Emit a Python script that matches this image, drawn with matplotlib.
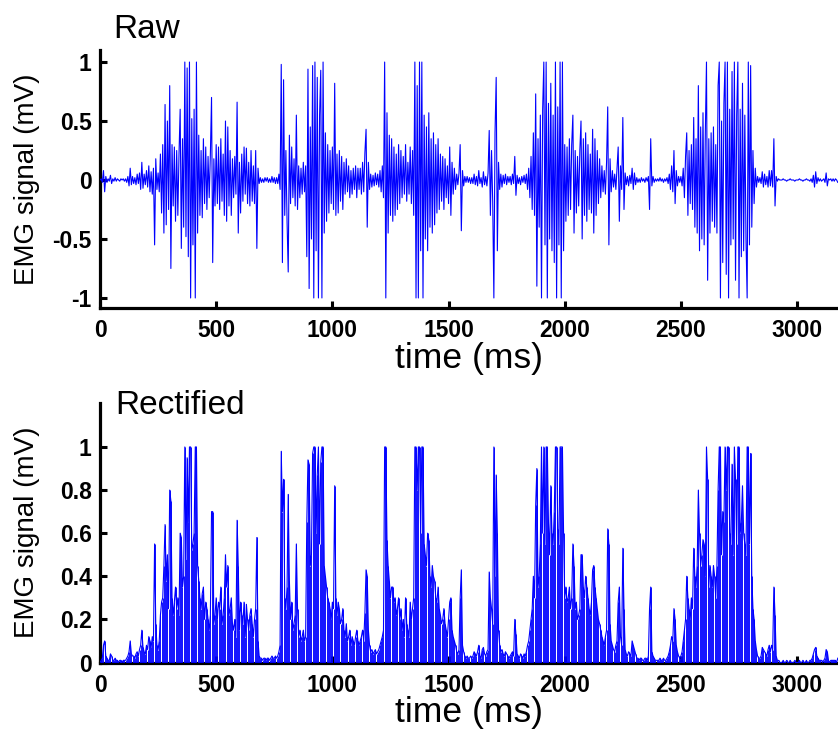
import numpy as np
import matplotlib
matplotlib.use('Agg')
import matplotlib.pyplot as plt

plt.rcParams['font.family'] = ['Liberation Sans', 'DejaVu Sans']

# EMG trace, one sample every 5 ms, in units of 0.01 mV
sample_ms = 5
raw_signal = [
    0, 1, -2, 8, -10, 3, -2, 1, -1, 4, -3, 1, -1, 2, -1, 1, 0, -1, 1, 0,            # 0
    1, -1, 1, -2, 3, -5, 10, -4, 3, -3, 2, -4, 5, -3, 6, -8, 15, -7, 5, -4,          # 100
    8, -6, 12, -10, 7, -12, 10, -55, 18, -8, 6, -10, 22, -28, 30, -45, 64, -38, 50, -25,
    80, -75, 30, -22, 28, -35, 25, -30, 22, 60, -58, 35, -40, 100, -48, 95, -65, 100, -100, 52,
    -55, 60, -100, 100, -45, 38, -30, 25, -32, 35, -20, 28, -25, 20, -15, 22, 70, -70, 18, -22,
    30, -20, 28, -25, 35, -18, 22, -30, 50, -35, 45, -22, 25, -30, 18, -15, 20, -12, 66, -45,
    15, -28, 22, -18, 28, -12, 27, -20, 15, -22, 25, -18, 12, -20, 25, -58, 10, -3, 2, -2,
    1, -2, 2, -1, 2, -2, 1, -2, 3, -2, 2, -3, 2, -3, 5, -8, 98, -70, 85, -30,
    25, -35, -78, 38, -20, 28, -15, 18, -22, 55, -25, 12, -15, 10, -12, 15, -10, 12, -65, 94,
    -92, 45, -50, 97, -100, 100, -60, 87, -100, 55, 93, -100, 100, -45, 40, -35, 30, -28, 25, -20,
    28, -25, 82, -30, 22, -28, 25, -18, 20, -25, 15, -12, 18, -10, 12, -15, 8, -12, 10, -8,   # 1000
    12, -15, 10, -8, 10, -12, 15, -10, 23, 43, -40, 15, -8, 5, -6, 4, -5, 6, -4, 5,
    -6, 8, -10, 12, -15, 100, -100, 57, -45, 38, -30, 35, -35, 28, -30, 22, -25, 30, -20, 25,
    -15, 20, -12, 30, -18, 15, -12, 28, -20, 25, -30, 100, -100, 80, -100, 100, -60, 100, -100, 55,
    -50, 45, -60, 57, -40, 35, -45, 40, -38, 30, -28, 35, -25, 22, -18, 20, -25, 18, -15, 12,
    -20, 28, -30, 15, -12, 10, -8, 5, -4, 6, 30, -43, 8, -5, 3, -2, 3, -2, 2, -3,
    2, -3, 5, -4, 3, -5, 8, -3, 2, -6, 7, -4, 3, -5, 6, 42, -30, 25, -18, -100,
    40, 87, -60, 15, -8, 5, -6, 4, -3, 5, -4, 3, -2, 3, -4, 5, -3, 20, -13, 4,
    -3, 2, -4, 3, -2, 4, -3, 5, -8, 10, -15, 20, -25, 40, -30, 73, -90, 35, -40, 55,
    -100, 60, 100, -55, 100, -100, 65, -50, 82, -60, 55, -70, 100, -100, 62, -55, 100, -100, 100, -60,
    30, -35, 28, -30, 35, -25, 30, 55, -45, 25, -28, 20, -22, 25, 50, -50, 35, -30, 40, -35,   # 2000
    30, -25, 22, -28, 43, -45, 35, -30, 25, -20, 18, -15, 12, -10, 8, -12, 15, 62, -55, 18,
    -10, 8, -6, 5, -8, 10, 28, -35, 12, -8, 53, -25, 6, -4, 3, -5, 4, -3, 10, -8,
    6, -4, 2, -2, 1, -2, 2, -1, 1, -2, 2, -1, 3, -25, 35, -5, 3, -2, 1, -1,
    1, -1, 2, -1, 1, -2, 1, -1, 2, -3, 5, -8, 12, -10, 25, -20, 8, -5, 3, -2,
    3, -5, 10, -15, 20, 40, -30, 25, -20, 30, -25, 53, -40, 35, -45, 80, -60, 45, -50, 57,
    -55, 40, 100, -85, 35, -45, 40, -35, 45, -40, 30, -45, 80, 100, -100, 50, -70, 65, 100, -80,
    100, -100, 60, -55, 92, -50, 100, -85, 55, 100, -100, 60, -65, 82, -60, 55, -50, -100, 100, -55,
    97, -40, 25, -20, 10, -6, 3, -2, 2, -3, 7, -6, 5, -4, 3, -6, 8, -5, 8, -6,
    35, -22, 3, -1, 1, 0, 0, 0, 1, 0, 0, -1, 0, 0, 1, 0, 0, 0, -1, 0,
    0, 0, 1, 0, 0, -1, 0, 0, 1, 0, 0, -1, 1, -2, 4, -6, 7, -3, 2, -1,                # 3000
    1, -1, 0, 1, -2, 6, -5, 1, 0, 1, -1, 1, -1, 1, 0, -2,
]

x_ticks = [0, 500, 1000, 1500, 2000, 2500, 3000]
raw_yticks = [-1, -0.5, 0, 0.5, 1]
raw_ytick_labels = ['-1', '-0.5', '0', '0.5', '1']
rect_yticks = [0, 0.2, 0.4, 0.6, 0.8, 1]
rect_ytick_labels = ['0', '0.2', '0.4', '0.6', '0.8', '1']

raw = np.array(raw_signal) / 100.0
t = np.arange(len(raw)) * sample_ms
rect = np.abs(raw)

W, H = 838, 736
fig = plt.figure(figsize=(W / 100, H / 100), dpi=100)
ax1 = fig.add_axes([100 / W, 1 - 308 / H, 738 / W, 258 / H])
ax2 = fig.add_axes([100 / W, 1 - 662.5 / H, 738 / W, 259.5 / H])

blue = '#0000ff'
ax1.plot(t, raw, c=blue, lw=0.8, zorder=3)
# each rectified sample as a stroke from zero, plus the trace itself
ax2.vlines(t, 0, rect, color=blue, lw=0.65, zorder=3)
ax2.plot(t, rect, c=blue, lw=0.8, zorder=3)

def style(ax, yticks, ylabels, ylim):
    ax.set_xlim(0, 3176)
    ax.set_ylim(*ylim)
    ax.set_xticks(x_ticks)
    ax.set_xticklabels([str(v) for v in x_ticks])
    ax.set_yticks(yticks)
    ax.set_yticklabels(ylabels)
    for s in ['top', 'right']:
        ax.spines[s].set_visible(False)
    for s in ['left', 'bottom']:
        ax.spines[s].set_linewidth(2.3)
    ax.tick_params(direction='in', length=5, width=2.2, labelsize=16.5)
    ax.tick_params(axis='x', pad=8)
    ax.tick_params(axis='y', pad=6)
    for lab in ax.get_xticklabels() + ax.get_yticklabels():
        lab.set_fontweight('bold')
    ax.set_xlabel('time (ms)', fontsize=25.5)
    ax.set_ylabel('EMG signal (mV)', fontsize=20)
    ax.yaxis.set_label_coords(-0.081, 0.5)

style(ax1, raw_yticks, raw_ytick_labels, (-1.085, 1.102))
style(ax2, rect_yticks, rect_ytick_labels, (0, 1.204))
ax1.xaxis.set_label_coords(0.5, -0.13)
ax2.xaxis.set_label_coords(0.5, -0.13)

fig.text(113 / W, 1 - 38 / H, 'Raw', fontsize=24, va='baseline')
fig.text(115 / W, 1 - 414 / H, 'Rectified', fontsize=24, va='baseline')

fig.savefig('out.png', dpi=100)
